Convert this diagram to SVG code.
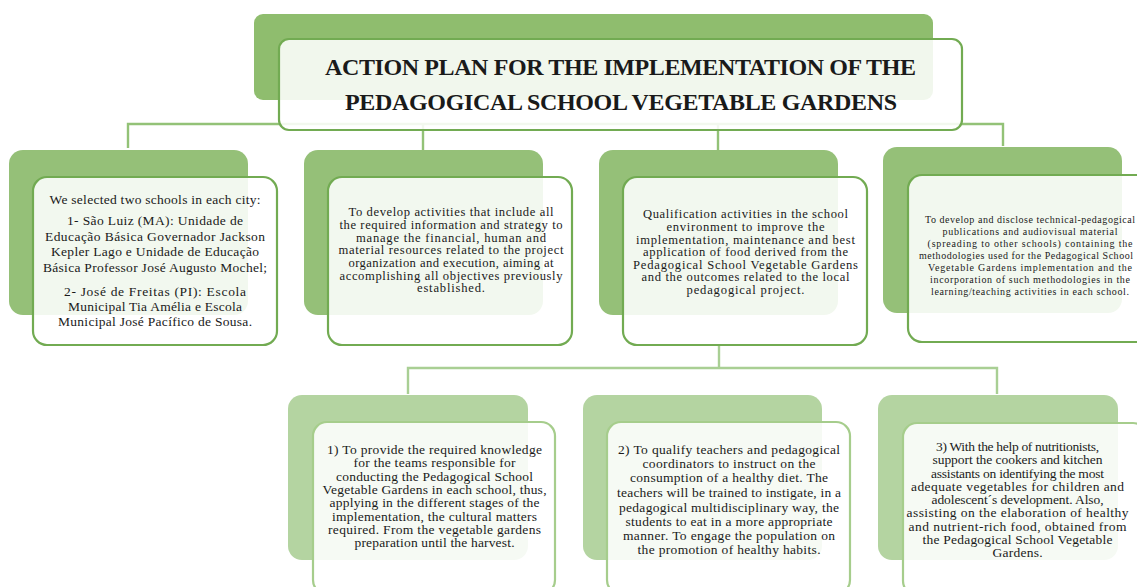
<svg xmlns="http://www.w3.org/2000/svg" width="1137" height="587" viewBox="0 0 1137 587">
<style>
.bk1{fill:#95c078}
.bk0{fill:#8fbd6e}
.bk2{fill:#b4d4a1}
.fr{fill:#ffffff;fill-opacity:0.88;stroke:#72ab52;stroke-width:2.2}
.fr2{fill:#ffffff;fill-opacity:0.88;stroke:#a6cd8c;stroke-width:2.2}
.cn{fill:none;stroke:#93c277;stroke-width:2.4}
.cn2{fill:none;stroke:#a9cf94;stroke-width:2.4}
text{font-family:"Liberation Serif","Times New Roman",serif;fill:#1a1a1a;text-anchor:middle}
.t{font-size:24px;font-weight:bold}
.b{font-size:13.5px}
.c{font-size:12.6px}
.s{font-size:10px}
</style>
<g id="connectors">
<path class="cn" d="M128,148 V124 H1003 V146"/>
<path class="cn" d="M423,124 V150"/>
<path class="cn" d="M718,124 V150"/>
<path class="cn2" d="M719,345 V368"/>
<path class="cn2" d="M408,394 V368 H997 V394"/>
</g>
<g id="title">
<rect class="bk0" x="254" y="14" width="679" height="86" rx="9"/>
<rect class="fr" x="279" y="39" width="683" height="91" rx="10"/>
<text class="t" x="620.5" y="75" textLength="591">ACTION PLAN FOR THE IMPLEMENTATION OF THE</text>
<text class="t" x="621" y="110" textLength="552">PEDAGOGICAL SCHOOL VEGETABLE GARDENS</text>
</g>
<g id="node-schools">
<rect class="bk1" x="9" y="150" width="239" height="165" rx="14"/>
<rect class="fr" x="33" y="177" width="244" height="168" rx="14"/>
<text class="b" x="155" y="204" textLength="211">We selected two schools in each city:</text>
<text class="b" x="155" y="225" textLength="176">1- São Luiz (MA): Unidade de</text>
<text class="b" x="155" y="241" textLength="220">Educação Básica Governador Jackson</text>
<text class="b" x="155" y="256" textLength="208">Kepler Lago e Unidade de Educação</text>
<text class="b" x="155" y="272" textLength="224">Básica Professor José Augusto Mochel;</text>
<text class="b" x="155" y="296" textLength="182">2- José de Freitas (PI): Escola</text>
<text class="b" x="155" y="311" textLength="174">Municipal Tia Amélia e Escola</text>
<text class="b" x="155" y="326" textLength="194">Municipal José Pacífico de Sousa.</text>
</g>
<g id="node-activities">
<rect class="bk1" x="304" y="150" width="239" height="165" rx="14"/>
<rect class="fr" x="328" y="177" width="244" height="168" rx="14"/>
<text class="c" x="451" y="216" textLength="205">To develop activities that include all</text>
<text class="c" x="451" y="229" textLength="223">the required information and strategy to</text>
<text class="c" x="451" y="241.5" textLength="190">manage the financial, human and</text>
<text class="c" x="451" y="254" textLength="225">material resources related to the project</text>
<text class="c" x="451" y="267" textLength="205">organization and execution, aiming at</text>
<text class="c" x="451" y="279.5" textLength="223">accomplishing all objectives previously</text>
<text class="c" x="451" y="292" textLength="68">established.</text>
</g>
<g id="node-qualification">
<rect class="bk1" x="599" y="150" width="239" height="165" rx="14"/>
<rect class="fr" x="623" y="177" width="244" height="168" rx="14"/>
<text class="c" x="745.5" y="218" textLength="205">Qualification activities in the school</text>
<text class="c" x="745.5" y="231" textLength="158">environment to improve the</text>
<text class="c" x="745.5" y="243.5" textLength="219">implementation, maintenance and best</text>
<text class="c" x="745.5" y="256" textLength="205">application of food derived from the</text>
<text class="c" x="745.5" y="268.5" textLength="225">Pedagogical School Vegetable Gardens</text>
<text class="c" x="745.5" y="281" textLength="208">and the outcomes related to the local</text>
<text class="c" x="745.5" y="294" textLength="118">pedagogical project.</text>
</g>
<g id="node-disclose">
<rect class="bk1" x="883" y="147" width="239" height="166" rx="14"/>
<rect class="fr" x="908" y="175" width="244" height="167" rx="14"/>
<text class="s" x="1030" y="223" textLength="210">To develop and disclose technical-pedagogical</text>
<text class="s" x="1030" y="235" textLength="175">publications and audiovisual material</text>
<text class="s" x="1030" y="247" textLength="205">(spreading to other schools) containing the</text>
<text class="s" x="1026" y="259" textLength="214">methodologies used for the Pedagogical School</text>
<text class="s" x="1030" y="271" textLength="204">Vegetable Gardens implementation and the</text>
<text class="s" x="1030" y="283" textLength="200">incorporation of such methodologies in the</text>
<text class="s" x="1030" y="295" textLength="198">learning/teaching activities in each school.</text>
</g>
<g id="node-knowledge">
<rect class="bk2" x="288" y="395" width="240" height="165" rx="14"/>
<rect class="fr2" x="313" y="422" width="242" height="172" rx="14"/>
<text class="b" x="434.5" y="454" textLength="215">1) To provide the required knowledge</text>
<text class="b" x="434.5" y="467" textLength="162">for the teams responsible for</text>
<text class="b" x="434.5" y="481" textLength="197">conducting the Pedagogical School</text>
<text class="b" x="434.5" y="494" textLength="224">Vegetable Gardens in each school, thus,</text>
<text class="b" x="434.5" y="507" textLength="210">applying in the different stages of the</text>
<text class="b" x="434.5" y="521" textLength="205">implementation, the cultural matters</text>
<text class="b" x="434.5" y="534" textLength="213">required. From the vegetable gardens</text>
<text class="b" x="434.5" y="547" textLength="160">preparation until the harvest.</text>
</g>
<g id="node-teachers">
<rect class="bk2" x="583" y="395" width="239" height="165" rx="14"/>
<rect class="fr2" x="607" y="422" width="243" height="172" rx="14"/>
<text class="b" x="729" y="454" textLength="222">2) To qualify teachers and pedagogical</text>
<text class="b" x="729" y="468" textLength="173">coordinators to instruct on the</text>
<text class="b" x="729" y="482" textLength="198">consumption of a healthy diet. The</text>
<text class="b" x="729" y="497" textLength="224">teachers will be trained to instigate, in a</text>
<text class="b" x="729" y="512" textLength="220">pedagogical multidisciplinary way, the</text>
<text class="b" x="729" y="526" textLength="207">students to eat in a more appropriate</text>
<text class="b" x="729" y="540" textLength="212">manner. To engage the population on</text>
<text class="b" x="729" y="554" textLength="183">the promotion of healthy habits.</text>
</g>
<g id="node-nutritionists">
<rect class="bk2" x="878" y="395" width="240" height="165" rx="14"/>
<rect class="fr2" x="903" y="423" width="244" height="172" rx="14"/>
<text class="b" x="1017.5" y="451" textLength="163">3) With the help of nutritionists,</text>
<text class="b" x="1017.5" y="464.2" textLength="170">support the cookers and kitchen</text>
<text class="b" x="1017.5" y="477.5" textLength="173">assistants on identifying the most</text>
<text class="b" x="1017.5" y="490.8" textLength="213">adequate vegetables for children and</text>
<text class="b" x="1017.5" y="504" textLength="172">adolescent´s development. Also,</text>
<text class="b" x="1017.5" y="517.3" textLength="222">assisting on the elaboration of healthy</text>
<text class="b" x="1017.5" y="530.6" textLength="218">and nutrient-rich food, obtained from</text>
<text class="b" x="1017.5" y="543.9" textLength="190">the Pedagogical School Vegetable</text>
<text class="b" x="1017.5" y="557.2" textLength="50">Gardens.</text>
</g>
</svg>
